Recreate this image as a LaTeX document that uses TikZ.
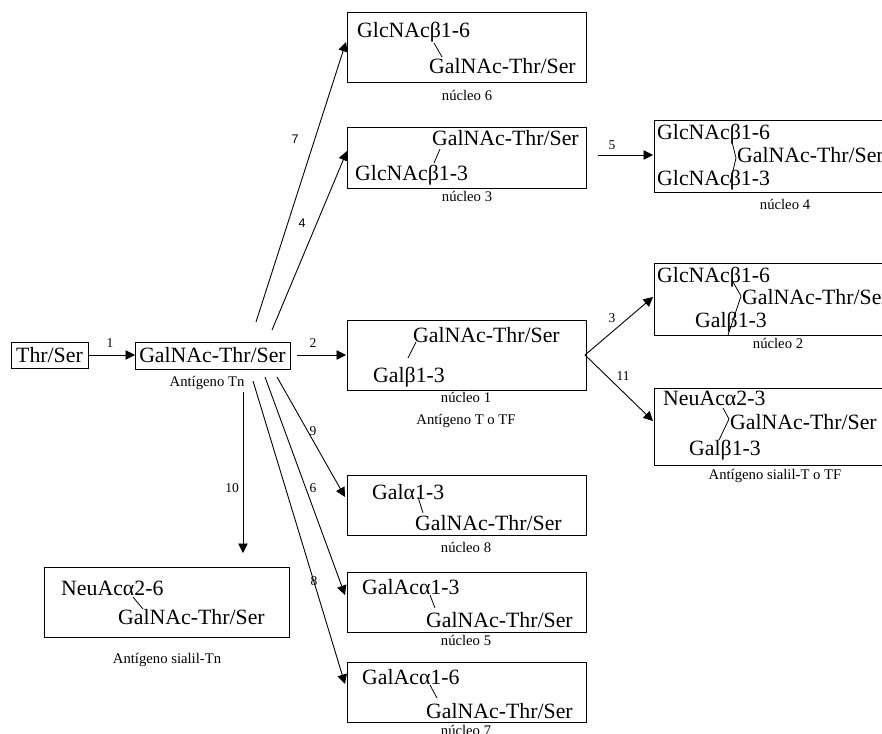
\documentclass[tikz,border=0pt]{standalone}
\usepackage{fontspec}
\setmainfont{Liberation Serif}
\newfontfamily\arialf{Liberation Sans}
\usetikzlibrary{arrows.meta}
\tikzset{
 box/.style={draw, line width=0.9pt, inner sep=0pt},
 big/.style={font=\fontsize{21.8}{24}\selectfont, inner sep=0pt, anchor=base west},
 captxt/.style={font=\fontsize{14.7}{16}\selectfont, inner sep=0pt, anchor=base},
 num/.style={font=\fontsize{13.5}{15}\selectfont, inner sep=0pt, anchor=base},
 snum/.style={font=\arialf\fontsize{12.5}{14}\selectfont, inner sep=0pt, anchor=base},
 arr/.style={line width=0.9pt, -{Triangle[length=9.5pt,width=9.5pt]}},
 bond/.style={line width=0.8pt},
}
\begin{document}
\begin{tikzpicture}[x=1pt,y=-1pt]
\useasboundingbox (0,0) rectangle (882,733);
\clip (0,0) rectangle (882,733);

% boxes
\node[box, minimum width=77pt, minimum height=26pt] (thr) at (49.5,355.5) {};
\node[box, minimum width=155pt, minimum height=27pt] (tn) at (212.5,355.5) {};
\node[box, minimum width=239pt, minimum height=70pt] (n6) at (466.5,47) {};
\node[box, minimum width=239pt, minimum height=61pt] (n3) at (466.5,157.5) {};
\node[box, minimum width=239pt, minimum height=70pt] (n1) at (466.5,355) {};
\node[box, minimum width=239pt, minimum height=60pt] (n8) at (466.5,505) {};
\node[box, minimum width=239pt, minimum height=60pt] (n5) at (466.5,602) {};
\node[box, minimum width=239pt, minimum height=60pt] (n7) at (466.5,692) {};
\node[box, minimum width=260pt, minimum height=72pt] (n4) at (784,156) {};
\node[box, minimum width=260pt, minimum height=72pt] (n2) at (784,299) {};
\node[box, minimum width=260pt, minimum height=77pt] (sT) at (784,426.5) {};
\node[box, minimum width=245pt, minimum height=70pt] (sTn) at (166.5,602) {};

% box texts
\node[font=\fontsize{21.8}{24}\selectfont, inner sep=0pt] (thrt) at (thr) {Thr/Ser};
\node[font=\fontsize{21.8}{24}\selectfont, inner sep=0pt] (tnt) at (tn) {GalNAc-Thr/Ser};

\node[big] (n6a) at (357,38) {GlcNAcβ1-6};
\node[big] (n6b) at (429,74) {GalNAc-Thr/Ser};
\node[big] (n3a) at (432,145) {GalNAc-Thr/Ser};
\node[big] (n3b) at (355,180) {GlcNAcβ1-3};
\node[big] (n4a) at (657,139) {GlcNAcβ1-6};
\node[big] (n4b) at (737,162) {GalNAc-Thr/Ser};
\node[big] (n4c) at (657,185) {GlcNAcβ1-3};
\node[big] (n2a) at (657,282) {GlcNAcβ1-6};
\node[big] (n2b) at (742,304) {GalNAc-Thr/Ser};
\node[big] (n2c) at (695,327) {Galβ1-3};
\node[big] (sTa) at (663,405) {NeuAcα2-3};
\node[big] (sTb) at (730,429) {GalNAc-Thr/Ser};
\node[big] (sTc) at (689,455) {Galβ1-3};
\node[big] (n1a) at (413,342) {GalNAc-Thr/Ser};
\node[big] (n1b) at (373,382) {Galβ1-3};
\node[big] (n8a) at (372,499) {Galα1-3};
\node[big] (n8b) at (415,530) {GalNAc-Thr/Ser};
\node[big] (n5a) at (362,594) {GalAcα1-3};
\node[big] (n5b) at (426,627) {GalNAc-Thr/Ser};
\node[big] (n7a) at (362,684) {GalAcα1-6};
\node[big] (n7b) at (426,718) {GalNAc-Thr/Ser};
\node[big] (sTna) at (61,595) {NeuAcα2-6};
\node[big] (sTnb) at (118,624) {GalNAc-Thr/Ser};

% bonds
\draw[bond] (434,43) -- (442,57);
\draw[bond] (440,149) -- (434,163);
\draw[bond] (732,142) -- (736,158) -- (730,183);
\draw[bond] (733,282) -- (741,296) -- (728,335);
\draw[bond] (723,408) -- (729,419) -- (719,440);
\draw[bond] (416,342) -- (408,358);
\draw[bond] (418,497) -- (423,513);
\draw[bond] (430,595) -- (435,608);
\draw[bond] (430,685) -- (437,698);
\draw[bond] (133,597) -- (143,609);

% captions
\node[captxt] (c_tn) at (207,386) {Antígeno Tn};
\node[captxt] (c6) at (467,100) {núcleo 6};
\node[captxt] (c3) at (467,201) {núcleo 3};
\node[captxt] (c4) at (785,209) {núcleo 4};
\node[captxt] (c2) at (778,348) {núcleo 2};
\node[captxt] (csT) at (775,479) {Antígeno sialil-T o TF};
\node[captxt] (c1) at (466,402) {núcleo 1};
\node[captxt] (c1b) at (466,424) {Antígeno T o TF};
\node[captxt] (c8) at (466,552) {núcleo 8};
\node[captxt] (c5) at (466,645) {núcleo 5};
\node[captxt] (c7) at (466,735) {núcleo 7};
\node[captxt] (csTn) at (167,663) {Antígeno sialil-Tn};

% arrow end points
\coordinate (a1s) at (89,355);   \coordinate (a1e) at (135,355);
\coordinate (a2s) at (297,355);  \coordinate (a2e) at (346,355);
\coordinate (a5s) at (598,155);  \coordinate (a5e) at (653,155);
\coordinate (a7s) at (256,322);  \coordinate (a7e) at (346,42);
\coordinate (a4s) at (272,330);  \coordinate (a4e) at (347,151);
\coordinate (a3s) at (585,355);  \coordinate (a3e) at (653,297);
\coordinate (a11e) at (653,421);
\coordinate (a10s) at (243,392); \coordinate (a10e) at (243,553);
\coordinate (a9s) at (277,377);  \coordinate (a9e) at (345,497);
\coordinate (a6s) at (265,377);  \coordinate (a6e) at (345,595);
\coordinate (a8s) at (253,381);  \coordinate (a8e) at (345,684);

\draw[arr] (a1s) -- (a1e);
\draw[arr] (a2s) -- (a2e);
\draw[arr] (a5s) -- (a5e);
\draw[arr] (a7s) -- (a7e);
\draw[arr] (a4s) -- (a4e);
\draw[arr] (a3s) -- (a3e);
\draw[arr] (a3s) -- (a11e);
\draw[arr] (a10s) -- (a10e);
\draw[arr] (a9s) -- (a9e);
\draw[arr] (a6s) -- (a6e);
\draw[arr] (a8s) -- (a8e);

% arrow labels
\node[num] (l1) at (110,347) {1};
\node[num] (l2) at (313,347) {2};
\node[num] (l5) at (612,149) {5};
\node[snum] (l7) at (295,143) {7};
\node[snum] (l4) at (302,227) {4};
\node[num] (l3) at (612,322) {3};
\node[num] (l11) at (623,380) {11};
\node[num] (l10) at (232,492) {10};
\node[num] (l9) at (313,435) {9};
\node[num] (l6) at (313,492) {6};
\node[num] (l8) at (314,585) {8};
\end{tikzpicture}
\end{document}
